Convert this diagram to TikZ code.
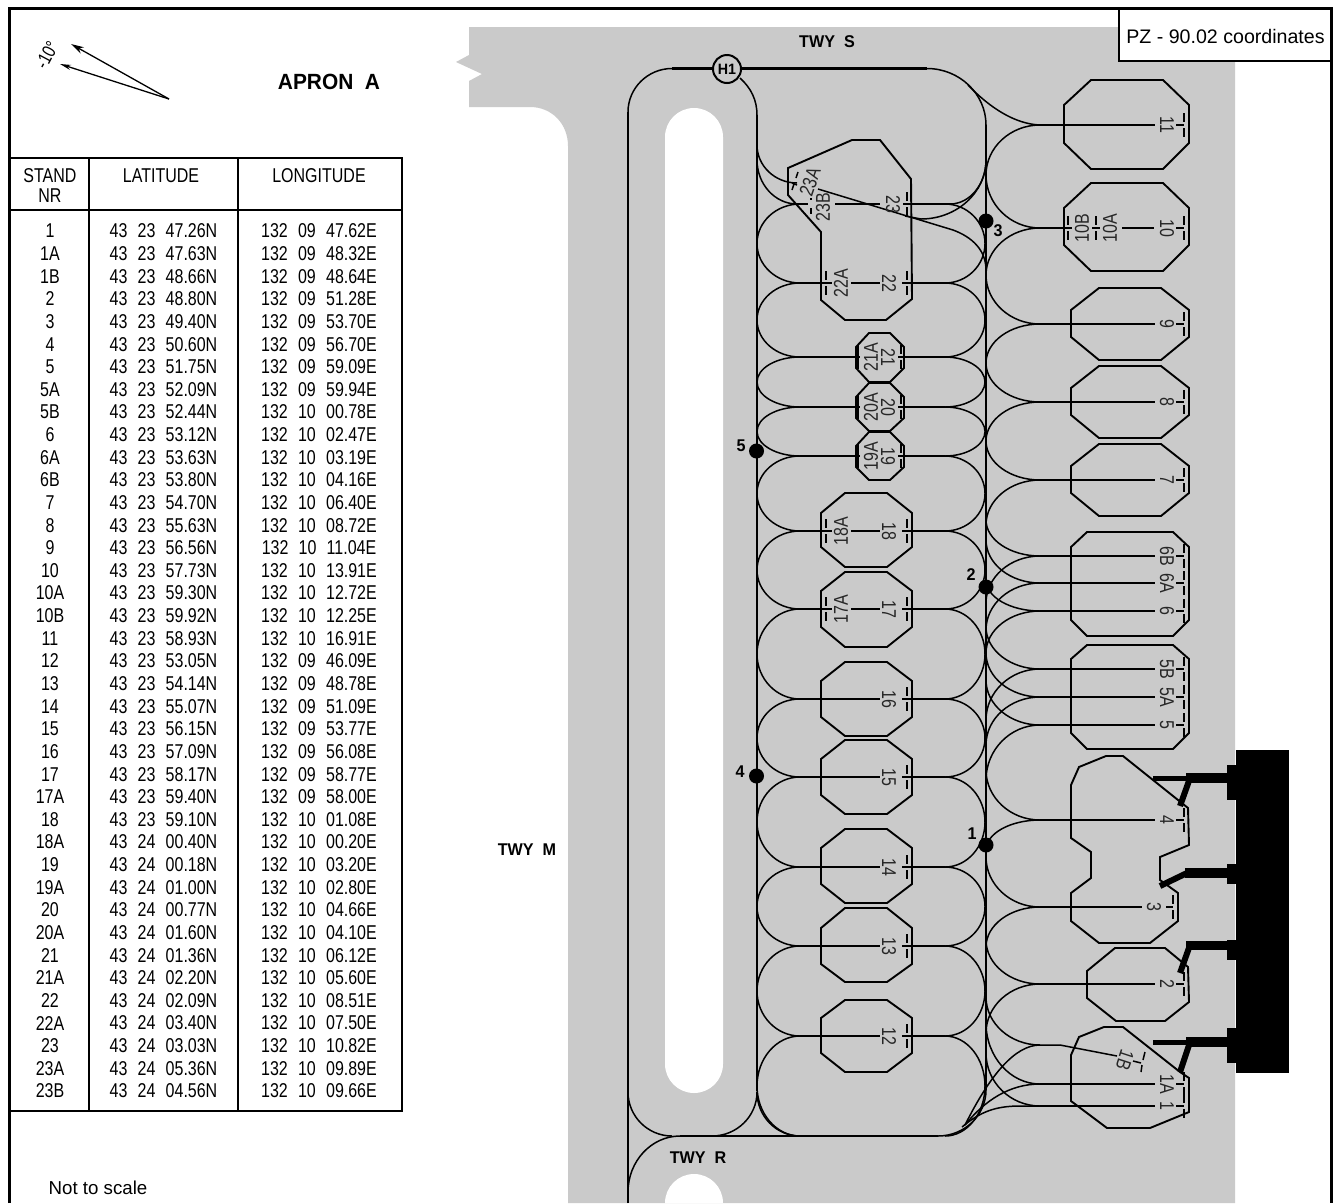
\documentclass[tikz,border=0pt]{standalone}
\usepackage{fontspec}
\usetikzlibrary{arrows.meta}
\setmainfont{Liberation Sans}
\newfontfamily\tabf[FakeStretch=0.8,WordSpace=2.3]{Liberation Sans}
\newfontfamily\bdf[FakeStretch=0.95,WordSpace=2.0]{Liberation Sans Bold}
\definecolor{apron}{RGB}{202,202,202}
\newcommand\qa[4]{\pgfmathsetmacro\cxa{#1+0.55*(#3-#1)}\pgfmathsetmacro\cya{#4+0.55*(#2-#4)}\draw[cv] (#1,#2) .. controls (\cxa,#2) and (#3,\cya) .. (#3,#4);}
\newcommand\tk[2]{\pgfmathsetmacro\ya{#2-12}\pgfmathsetmacro\yb{#2-3}\pgfmathsetmacro\yc{#2+3}\pgfmathsetmacro\yd{#2+12}\draw[oct] (#1,\ya) -- (#1,\yb) (#1,\yc) -- (#1,\yd);}
\tikzset{
  cv/.style={line width=1.5pt,black},
  oct/.style={line width=1.9pt,black},
  ln/.style={line width=2.3pt,black},
  slab/.style={font=\tabf\fontsize{20pt}{20pt}\selectfont,inner sep=0pt,text=black!85},
  tab/.style={font=\tabf\fontsize{20pt}{20pt}\selectfont,inner sep=0pt},
  bd/.style={font=\bdf\fontsize{17pt}{17pt}\selectfont,inner sep=0pt},
  spot/.style={circle,fill=black,minimum size=15pt,inner sep=0pt},
  jet/.style={black,line cap=butt},
}
\begin{document}
\begin{tikzpicture}[x=1pt,y=-1pt]
\useasboundingbox (0,0) rectangle (1333,1203);
\fill[white] (0,0) rectangle (1333,1203);
% apron
\fill[apron] (469,27) -- (1235,27) -- (1235,1203) -- (568,1203) -- (568,146) .. controls (568,124) and (552,107) .. (530,107) -- (469,107) -- (469,81) -- (482,74) -- (456,62) -- (469,55) -- cycle;
\fill[white] (665,137) .. controls (665,121) and (678,108) .. (694,108) .. controls (710,108) and (723,121) .. (723,137) -- (723,1064) .. controls (723,1080) and (710,1093) .. (694,1093) .. controls (678,1093) and (665,1080) .. (665,1064) -- cycle;
\fill[white] (665,1203) .. controls (665,1187) and (678,1174) .. (694,1174) .. controls (710,1174) and (723,1187) .. (723,1203) -- cycle;
% building
\fill[black] (1236,750) rectangle (1289,1073);
\fill[black] (1227,765) rectangle (1236,800);
\fill[black] (1227,864) rectangle (1236,884);
\fill[black] (1227,940) rectangle (1236,960);
\fill[black] (1227,1028) rectangle (1236,1063);
% frame
\draw[line width=3pt] (9.5,1203) -- (9.5,8.5) -- (1331,8.5) -- (1331,1203);
\draw[line width=2.4pt,fill=white] (1119,8.5) rectangle (1331,61);
\node[font=\fontsize{19.6pt}{19.6pt}\selectfont,inner sep=0pt] (pz) at (1225.5,36) {PZ - 90.02 coordinates};
% table
\draw[line width=2.6pt] (9.5,158) -- (402,158) -- (402,1111) -- (9.5,1111) (9.5,210) -- (402,210) (89,158) -- (89,1111) (238,158) -- (238,1111);
\node[tab] (hst) at (50,176) {STAND};
\node[tab] (hnr) at (50,196) {NR};
\node[tab] (hla) at (161,176) {LATITUDE};
\node[tab] (hlo) at (319,176) {LONGITUDE};
\foreach \s/\la/\lo [count=\n from 0] in {1/43 23 47.26N/132 09 47.62E,1A/43 23 47.63N/132 09 48.32E,1B/43 23 48.66N/132 09 48.64E,2/43 23 48.80N/132 09 51.28E,3/43 23 49.40N/132 09 53.70E,4/43 23 50.60N/132 09 56.70E,5/43 23 51.75N/132 09 59.09E,5A/43 23 52.09N/132 09 59.94E,5B/43 23 52.44N/132 10 00.78E,6/43 23 53.12N/132 10 02.47E,6A/43 23 53.63N/132 10 03.19E,6B/43 23 53.80N/132 10 04.16E,7/43 23 54.70N/132 10 06.40E,8/43 23 55.63N/132 10 08.72E,9/43 23 56.56N/132 10 11.04E,10/43 23 57.73N/132 10 13.91E,10A/43 23 59.30N/132 10 12.72E,10B/43 23 59.92N/132 10 12.25E,11/43 23 58.93N/132 10 16.91E,12/43 23 53.05N/132 09 46.09E,13/43 23 54.14N/132 09 48.78E,14/43 23 55.07N/132 09 51.09E,15/43 23 56.15N/132 09 53.77E,16/43 23 57.09N/132 09 56.08E,17/43 23 58.17N/132 09 58.77E,17A/43 23 59.40N/132 09 58.00E,18/43 23 59.10N/132 10 01.08E,18A/43 24 00.40N/132 10 00.20E,19/43 24 00.18N/132 10 03.20E,19A/43 24 01.00N/132 10 02.80E,20/43 24 00.77N/132 10 04.66E,20A/43 24 01.60N/132 10 04.10E,21/43 24 01.36N/132 10 06.12E,21A/43 24 02.20N/132 10 05.60E,22/43 24 02.09N/132 10 08.51E,22A/43 24 03.40N/132 10 07.50E,23/43 24 03.03N/132 10 10.82E,23A/43 24 05.36N/132 10 09.89E,23B/43 24 04.56N/132 10 09.66E}{
  \pgfmathsetmacro\yy{231+22.63*\n}
  \node[tab] (rs\n) at (50,\yy) {\s};
  \node[tab] (rl\n) at (163.5,\yy) {\la};
  \node[tab] (ro\n) at (319,\yy) {\lo};
}
% north arrows
\coordinate (nb) at (169,99);
\coordinate (n1) at (71,44);
\coordinate (n2) at (60,64);
\draw[line width=1.3pt,-{Stealth[length=13pt,width=7pt]}] (nb) -- (n1);
\draw[line width=1.3pt,-{Stealth[length=11pt,width=5pt]}] (nb) -- (n2);
\node[font=\tabf\fontsize{19pt}{19pt}\selectfont,inner sep=0pt,rotate=62] (mag) at (47,55) {-10°};
\node[font=\bdf\fontsize{22pt}{22pt}\selectfont,inner sep=0pt] (ap) at (329,82) {APRON A};
\node[font=\fontsize{18.7pt}{18.7pt}\selectfont,inner sep=0pt] (nts) at (98,1188) {Not to scale};
\node[bd] (ts) at (827,42) {TWY S};
\node[bd] (tm) at (527,850) {TWY M};
\node[bd] (tr) at (698,1158) {TWY R};
% taxiways
\draw[ln] (628,1203) -- (628,112);
\draw[ln] (757,115) -- (757,1091);
\draw[ln] (986,125) -- (986,1090);
\draw[ln] (672,68.5) -- (927,68.5);
\draw[ln] (680,1136) -- (938,1136);
\qa{672}{68.5}{628}{112}
\draw[cv] (740,78) .. controls (751,88) and (757,100) .. (757,115);
\qa{927}{68.5}{986}{125}
\qa{672}{1136}{628}{1092}
\qa{712}{1136}{757}{1092}
\qa{800}{1136}{757}{1092}
\qa{938}{1136}{986}{1090}
\qa{680}{1136}{628}{1192}
% pills
\foreach \a/\b in {204/283,283/357,357/407,407/456,456/531,531/609,609/699,699/777,777/867,867/946,946/1036,1036/1136}{
  \pgfmathsetmacro\mm{(\a+\b)/2}
  \qa{800}{\a}{757}{\mm}
  \qa{800}{\b}{757}{\mm}
  \qa{945}{\a}{985}{\mm}
  \qa{945}{\b}{985}{\mm}
}
% top left curves to 23
\qa{797}{183}{757}{145}
\qa{797}{204}{757}{160}
\qa{950}{204}{986}{160}
\draw[cv] (905,216) -- (921,219);
\qa{921}{219}{986}{160}
\draw[cv] (818,189) -- (953,230) .. controls (972,237) and (986,250) .. (986,270);
% stand lead-ins right
\draw[cv] (968,85) .. controls (990,108) and (1015,124) .. (1040,125);
\foreach \y/\m in {125/175,228/175,228/275,324/275,324/363,402/363,402/441,480/441,480/525,556/520,556/603,583/540,583/630,611/580,611/653,669/627,669/720,697/653,697/745,725/680,725/780,820/770,820/850,907/857,907/947,984/940,984/1033,1045/997,1084/1023,1106/1053}{
  \qa{1040}{\y}{986}{\m}
}
\draw[cv] (1060,1045) -- (1040,1045) .. controls (1015,1045) and (990,1075) .. (965,1125);
\draw[cv] (1040,1084) .. controls (1010,1084) and (985,1100) .. (965,1125);
\draw[cv] (1040,1106) -- (1020,1106) .. controls (995,1106) and (980,1112) .. (962,1127);
\draw[cv] (1060,1045) -- (1117,1056);
% octagons
\foreach \ca/\cb/\cc/\cd/\ce/\cf/\cg/\ch in {1064/1091/1163/1189/80/105/143/169,1064/1091/1163/1189/183/208/245/271,1071/1099/1161/1189/288/310/337/360,1071/1099/1161/1189/366/388/415/438,1071/1099/1161/1189/444/466/493/516,1071/1087/1173/1189/532/547/620/636,1071/1087/1173/1189/645/659/733/749,821/845/887/912/493/513/547/567,821/845/887/912/572/591/627/647,821/845/887/912/662/681/717/736,821/845/887/912/740/759/795/814,821/845/887/912/829/848/884/903,821/845/887/912/908/928/964/982,821/845/887/912/1000/1018/1053/1072,856/869/890/904/333/347/368/382,856/869/890/904/383/397/418/431,856/869/890/904/432/446/467/480}{
  \draw[oct] (\ca,\cf) -- (\cb,\ce) -- (\cc,\ce) -- (\cd,\cf) -- (\cd,\cg) -- (\cc,\ch) -- (\cb,\ch) -- (\ca,\cg) -- cycle;
}
\draw[oct] (788,168) -- (852,140) -- (880,140) -- (911,179) -- (912,299) -- (886,320) -- (845,320) -- (821,300) -- (821,232) -- (788,195) -- cycle;
\draw[oct] (1071,785) -- (1079,767) -- (1106,756) -- (1123,756) -- (1188,808) -- (1189,845) -- (1160,857) -- (1160,880) -- (1178,893) -- (1178,921) -- (1150,943) -- (1099,943) -- (1071,921) -- (1071,893) -- (1091,878) -- (1091,852) -- (1071,838) -- cycle;
\draw[oct] (1087,971) -- (1115,948) -- (1165,948) -- (1188,967) -- (1189,1002) -- (1165,1021) -- (1116,1021) -- (1087,998) -- cycle;
\draw[oct] (1071,1055) -- (1079,1037) -- (1104,1027) -- (1123,1027) -- (1180,1072) -- (1189,1078) -- (1189,1112) -- (1150,1128) -- (1107,1128) -- (1071,1101) -- cycle;
% right stand lines
\foreach \y/\t [count=\k] in {125/11,324/9,402/8,480/7,556/6B,583/6A,611/6,669/5B,697/5A,725/5,820/4,984/2,1084/1A,1106/1}{
  \draw[ln] (1040,\y) -- (1155,\y);
  \draw[oct] (1176,\y) -- (1184,\y);
  \tk{1184}{\y}
  \node[slab,rotate=-90] (sr\k) at (1167,\y) {\t};
}
\draw[ln] (1040,907) -- (1142,907);
\draw[oct] (1166,907) -- (1173,907);
\tk{1173}{907}
\node[slab,rotate=-90] (s3) at (1154,907) {3};
\draw[ln] (1037,228) -- (1072,228);
\draw[oct] (1092,228) -- (1100,228);
\draw[ln] (1122,228) -- (1154,228);
\draw[oct] (1176,228) -- (1184,228);
\tk{1068}{228}\tk{1096}{228}\tk{1184}{228}
\node[slab,rotate=90] (s10b) at (1082,228) {10B};
\node[slab,rotate=90] (s10a) at (1110,228) {10A};
\node[slab,rotate=-90] (s10) at (1167,228) {10};
% left stand lines
\foreach \y/\t [count=\k] in {699/16,777/15,867/14,946/13,1036/12}{
  \draw[ln] (800,\y) -- (880,\y);
  \draw[ln] (902,\y) -- (945,\y);
  \tk{907}{\y}
  \node[slab,rotate=-90] (sl\k) at (889,\y) {\t};
}
\foreach \y/\t/\u [count=\k] in {609/17/17A,531/18/18A,283/22/22A}{
  \draw[ln] (800,\y) -- (832,\y);
  \draw[ln] (851,\y) -- (880,\y);
  \draw[ln] (902,\y) -- (945,\y);
  \tk{826}{\y}\tk{907}{\y}
  \node[slab,rotate=-90] (sm\k) at (889,\y) {\t};
  \node[slab,rotate=90] (sn\k) at (841,\y) {\u};
}
\foreach \y/\t/\u [count=\k] in {357/21/21A,407/20/20A,456/19/19A}{
  \draw[ln] (800,\y) -- (860,\y);
  \draw[ln] (898,\y) -- (945,\y);
  \draw[line width=2.4pt] (858,\y-12) -- (858,\y+12);
  \tk{901}{\y}
  \node[slab,rotate=-90] (so\k) at (888,\y) {\t};
  \node[slab,rotate=90] (sp\k) at (871,\y) {\u};
}
% stand 23
\draw[ln] (797,204) -- (808,204);
\draw[ln] (835,204) -- (880,204);
\draw[ln] (903,204) -- (950,204);
\tk{907}{204}
\draw[oct] (811,198) -- (811,200) (811,208) -- (811,214);
\node[slab,rotate=-90] (s23) at (893,204) {23};
\node[slab,rotate=90] (s23b) at (823,207) {23B};
\node[slab,rotate=71] (s23a) at (810,182) {23A};
\draw[cv] (798,172) -- (796,178) (794,184) -- (792,190) (792,183) -- (797,185);
% stand 1B
\node[slab,rotate=-108] (s1b) at (1125,1060) {1B};
\draw[cv] (1145,1052) -- (1143,1060) (1142,1065) -- (1141,1072) (1133,1061) -- (1141,1063);
% jet bridges
\draw[jet,line width=5pt] (1153,778) -- (1190,778);
\fill[black] (1186,773) rectangle (1228,783);
\draw[jet,line width=6pt] (1190,778) -- (1180,806);
\fill[black] (1185,868) rectangle (1228,878);
\draw[jet,line width=6pt] (1187,873) -- (1160,886);
\fill[black] (1186,941) rectangle (1228,950);
\draw[jet,line width=6pt] (1190,945) -- (1180,973);
\draw[jet,line width=5pt] (1153,1042) -- (1190,1042);
\fill[black] (1186,1037) rectangle (1228,1047);
\draw[jet,line width=6pt] (1190,1042) -- (1180,1072);
% spots
\node[spot] (p3) at (986,221) {};
\node[spot] (p5) at (756.5,451) {};
\node[spot] (p2) at (986,587) {};
\node[spot] (p4) at (756.5,776) {};
\node[spot] (p1) at (986,845) {};
\node[bd] (l3) at (998,231) {3};
\node[bd] (l5) at (741,446) {5};
\node[bd] (l2) at (971,575) {2};
\node[bd] (l4) at (740,772) {4};
\node[bd] (l1) at (972,834) {1};
\node[circle,draw=black,line width=2pt,fill=apron,minimum size=28pt,inner sep=0pt,font=\bdf\fontsize{15pt}{15pt}\selectfont] (h1) at (727,69) {H1};
\end{tikzpicture}
\end{document}
